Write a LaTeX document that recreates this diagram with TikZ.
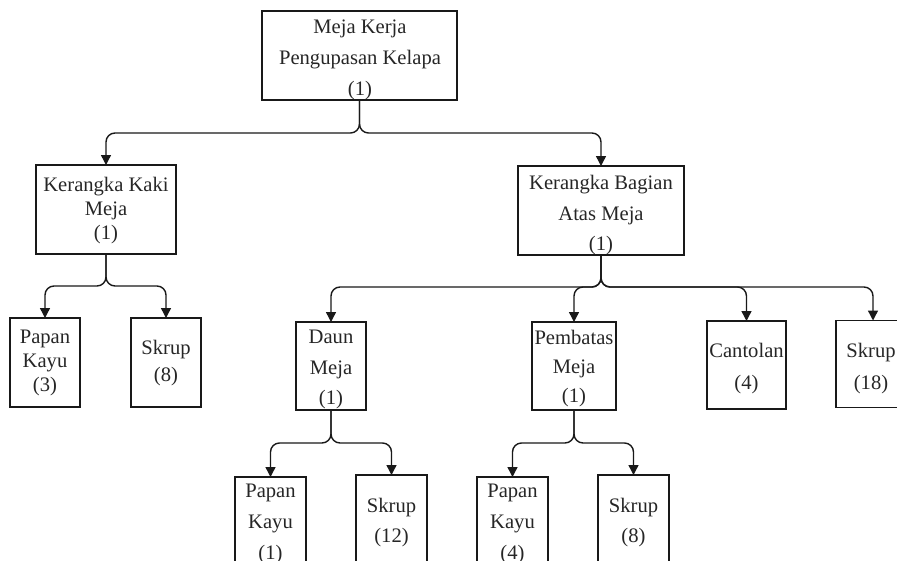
\documentclass[tikz,border=0pt]{standalone}
\usepackage{fontspec}
\setmainfont{Liberation Serif}
\newfontfamily\tnrfont{Liberation Serif}
\usetikzlibrary{arrows.meta}
\begin{document}
\begin{tikzpicture}[x=1pt,y=-1pt,
  box/.style 2 args={draw=black!90, line width=1.3pt, minimum width=#1pt, minimum height=#2pt, inner sep=0pt, outer sep=0pt},
  lbl/.style={align=center, inner sep=0pt, text=black!85, font=\tnrfont\fontsize{20.6}{#1}\selectfont},
  conn/.style={draw=black!90, line width=1.4pt, rounded corners=9pt, -{Triangle[length=10pt,width=10pt]}}]
\useasboundingbox (0,0) rectangle (897,560);
\clip (0,0) rectangle (897,560);
% boxes
\node[box={195}{89}] (top) at (359.5,55.5) {};
\node[box={140}{89}] (kk) at (106,209.5) {};
\node[box={70}{89}] (pk3) at (45,362.5) {};
\node[box={70}{89}] (s8) at (166,362.5) {};
\node[box={166}{89}] (kb) at (601,210.5) {};
\node[box={70}{88}] (dm) at (331,366) {};
\node[box={84}{88}] (pm) at (574,366) {};
\node[box={79}{88}] (ct) at (746.5,365) {};
\node[box={74}{87}] (s18) at (873,364) {};
\node[box={71}{89}] (pk1) at (270.5,521.5) {};
\node[box={71}{89}] (s12) at (391.5,519.5) {};
\node[box={71}{89}] (pk4) at (512.5,521.5) {};
\node[box={71}{89}] (s8b) at (633.5,519.5) {};
% labels
\node[lbl=31] (top-t) at (360,60) {Meja Kerja\\Pengupasan Kelapa\\(1)};
\node[lbl=24] (kk-t) at (106,211) {Kerangka Kaki\\Meja\\(1)};
\node[lbl=24] (pk3-t) at (45,363) {Papan\\Kayu\\(3)};
\node[lbl=27] (s8-t) at (166,363.5) {Skrup\\(8)};
\node[lbl=30.5] (kb-t) at (601,215.5) {Kerangka Bagian\\Atas Meja\\(1)};
\node[lbl=30.5] (dm-t) at (331,369.5) {Daun\\Meja\\(1)};
\node[lbl=29] (pm-t) at (574,369) {Pembatas\\Meja\\(1)};
\node[lbl=32] (ct-t) at (746.5,369) {Cantolan\\(4)};
\node[lbl=32] (s18-t) at (871,369) {Skrup\\(18)};
\node[lbl=31] (pk1-t) at (270.5,524) {Papan\\Kayu\\(1)};
\node[lbl=30] (s12-t) at (391.5,523) {Skrup\\(12)};
\node[lbl=31] (pk4-t) at (512.5,524) {Papan\\Kayu\\(4)};
\node[lbl=30] (s8b-t) at (633.5,523) {Skrup\\(8)};
% connectors
\draw[conn] (top.south) -- ++(0,33) -| (kk.north);
\draw[conn] (top.south) -- ++(0,33) -| (kb.north);
\draw[conn] (kk.south) -- ++(0,32) -| (pk3.north);
\draw[conn] (kk.south) -- ++(0,32) -| (s8.north);
\draw[conn] (kb.south) -- ++(0,32) -| (dm.north);
\draw[conn] (kb.south) -- ++(0,32) -| (pm.north);
\draw[conn] (kb.south) -- ++(0,32) -| (ct.north);
\draw[conn] (kb.south) -- ++(0,32) -| (s18.north);
\draw[conn] (dm.south) -- ++(0,33) -| (pk1.north);
\draw[conn] (dm.south) -- ++(0,33) -| (s12.north);
\draw[conn] (pm.south) -- ++(0,33) -| (pk4.north);
\draw[conn] (pm.south) -- ++(0,33) -| (s8b.north);
\end{tikzpicture}
\end{document}
